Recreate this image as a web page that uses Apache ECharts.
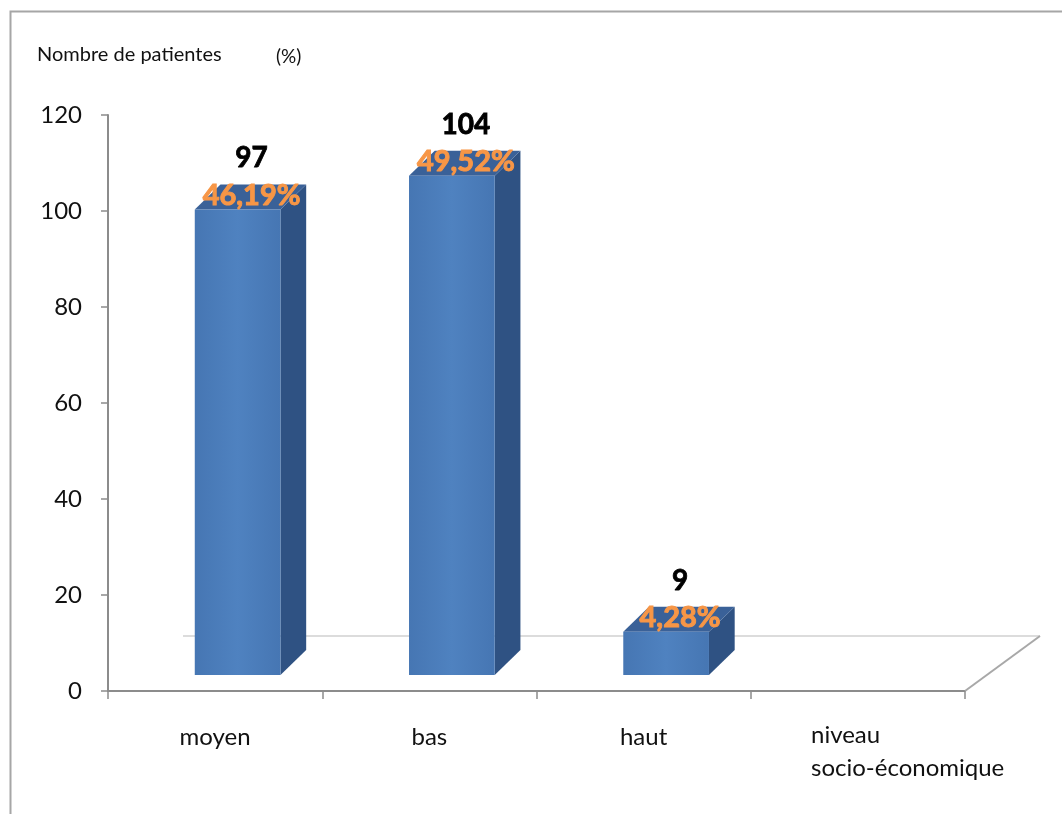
<!DOCTYPE html>
<html>
<head>
<meta charset="utf-8">
<script src="https://cdn.jsdelivr.net/npm/echarts@6/dist/echarts.min.js"></script>
<style>
  html, body { margin: 0; padding: 0; background: #ffffff; }
  #chart { width: 1062px; height: 814px; }
</style>
</head>
<body>
<div id="chart"></div>
<script>
// Socio-economic level of the patients: counts and shares
const categories = ['moyen', 'bas', 'haut', ''];
const patientCounts = [97, 104, 9];
const percentLabels = ['46,19%', '49,52%', '4,28%'];
const yTicks = { min: 0, max: 120, interval: 20 };
const axisTitle = 'niveau\nsocio-économique';

const FONT = 'Lato, "Open Sans", sans-serif';

// 3D look: floor depth and the box depth of each column
const FLOOR_DX = 0.35;   // share of a category band
const FLOOR_DY = 55;     // px
const BAR_LIFT = 16;     // columns stand a little inside the floor
const SIDE_DX = 0.12;    // share of a category band
const SIDE_DY = 25;      // px

const barData = patientCounts.map((v, i) => [i, v, percentLabels[i]]);

const chart = echarts.init(document.getElementById('chart'), null, { renderer: 'canvas' });

chart.setOption({
  backgroundColor: '#ffffff',
  animation: false,
  grid: { left: 108, right: 97, top: 115, bottom: 123, containLabel: false },
  xAxis: {
    type: 'category',
    data: categories,
    boundaryGap: true,
    axisLine: { lineStyle: { color: '#8c8c8c', width: 2 } },
    axisTick: { show: true, length: 8, alignWithLabel: false, lineStyle: { color: '#8c8c8c', width: 1.5 } },
    axisLabel: { color: '#111', fontFamily: FONT, fontSize: 24, margin: 33, lineHeight: 26 },
    splitLine: { show: false }
  },
  yAxis: {
    type: 'value',
    min: yTicks.min,
    max: yTicks.max,
    interval: yTicks.interval,
    axisLine: { show: true, lineStyle: { color: '#8c8c8c', width: 2 } },
    axisTick: { show: true, length: 7, lineStyle: { color: '#8c8c8c', width: 1.5 } },
    axisLabel: { color: '#111', fontFamily: FONT, fontSize: 24, margin: 26 },
    splitLine: { show: false }
  },
  graphic: [
    { type: 'rect', left: 8, top: 9, z: -10, silent: true,
      shape: { x: 0, y: 0, width: 1080, height: 830 },
      style: { fill: 'none', stroke: '#a6a6a6', lineWidth: 2 } },
    { type: 'text', left: 37, top: 45,
      style: { text: 'Nombre de patientes', fill: '#111', font: '20px ' + FONT } },
    { type: 'text', left: 276, top: 47,
      style: { text: '(%)', fill: '#111', font: '19px ' + FONT } },
    { type: 'text', left: 811, top: 719,
      style: { text: axisTitle, fill: '#111', font: '24px ' + FONT, lineHeight: 33 } }
  ],
  series: [
    {
      // floor of the 3D plot area
      type: 'custom',
      silent: true,
      z: 1,
      data: [[0, 0]],
      renderItem: function (params, api) {
        const cs = params.coordSys;
        const bw = api.size([1, 0])[0];
        const x0 = cs.x, x1 = cs.x + cs.width, y0 = cs.y + cs.height;
        const dx = FLOOR_DX * bw;
        return {
          type: 'group',
          children: [
            { type: 'line',
              shape: { x1: x0 + dx, y1: y0 - FLOOR_DY, x2: x1 + dx, y2: y0 - FLOOR_DY },
              style: { stroke: '#dcdcdc', lineWidth: 2 } },
            { type: 'line',
              shape: { x1: x1, y1: y0, x2: x1 + dx, y2: y0 - FLOOR_DY },
              style: { stroke: '#a8a8a8', lineWidth: 2 } }
          ]
        };
      }
    },
    {
      // 3D columns with count and share labels
      type: 'custom',
      z: 5,
      data: barData,
      renderItem: function (params, api) {
        const idx = api.value(0);
        const val = api.value(1);
        const pct = barData[params.dataIndex][2];
        const top = api.coord([idx, val]);
        const base = api.coord([idx, 0]);
        const bw = api.size([1, 0])[0];
        const fx = top[0] - 0.095 * bw;
        const fw = 0.4 * bw;
        const fTop = top[1] - BAR_LIFT;
        const fBot = base[1] - BAR_LIFT;
        const sdx = SIDE_DX * bw;
        const labelX = fx + fw / 2 + 0.065 * bw;
        return {
          type: 'group',
          children: [
            { type: 'polygon',
              shape: { points: [[fx + fw, fTop], [fx + fw + sdx, fTop - SIDE_DY], [fx + fw + sdx, fBot - SIDE_DY], [fx + fw, fBot]] },
              style: { fill: '#2F5283' } },
            { type: 'polygon',
              shape: { points: [[fx, fTop], [fx + fw, fTop], [fx + fw + sdx, fTop - SIDE_DY], [fx + sdx, fTop - SIDE_DY]] },
              style: { fill: '#3A6198' } },
            { type: 'rect',
              shape: { x: fx, y: fTop, width: fw, height: fBot - fTop },
              style: {
                fill: new echarts.graphic.LinearGradient(0, 0, 1, 0, [
                  { offset: 0, color: '#4676B3' },
                  { offset: 0.5, color: '#4F82C0' },
                  { offset: 1, color: '#4676B3' }
                ])
              } },
            { type: 'text', z2: 10,
              style: { text: String(val), x: labelX, y: fTop - 51, align: 'center', verticalAlign: 'middle',
                       fill: '#000', font: 'bold 28px ' + FONT, stroke: '#000', lineWidth: 0.8 } },
            { type: 'text', z2: 10,
              style: { text: pct, x: labelX, y: fTop - 14, align: 'center', verticalAlign: 'middle',
                       fill: '#F79646', font: 'bold 29px ' + FONT, stroke: '#F79646', lineWidth: 1 } }
          ]
        };
      }
    }
  ]
});
</script>
</body>
</html>
